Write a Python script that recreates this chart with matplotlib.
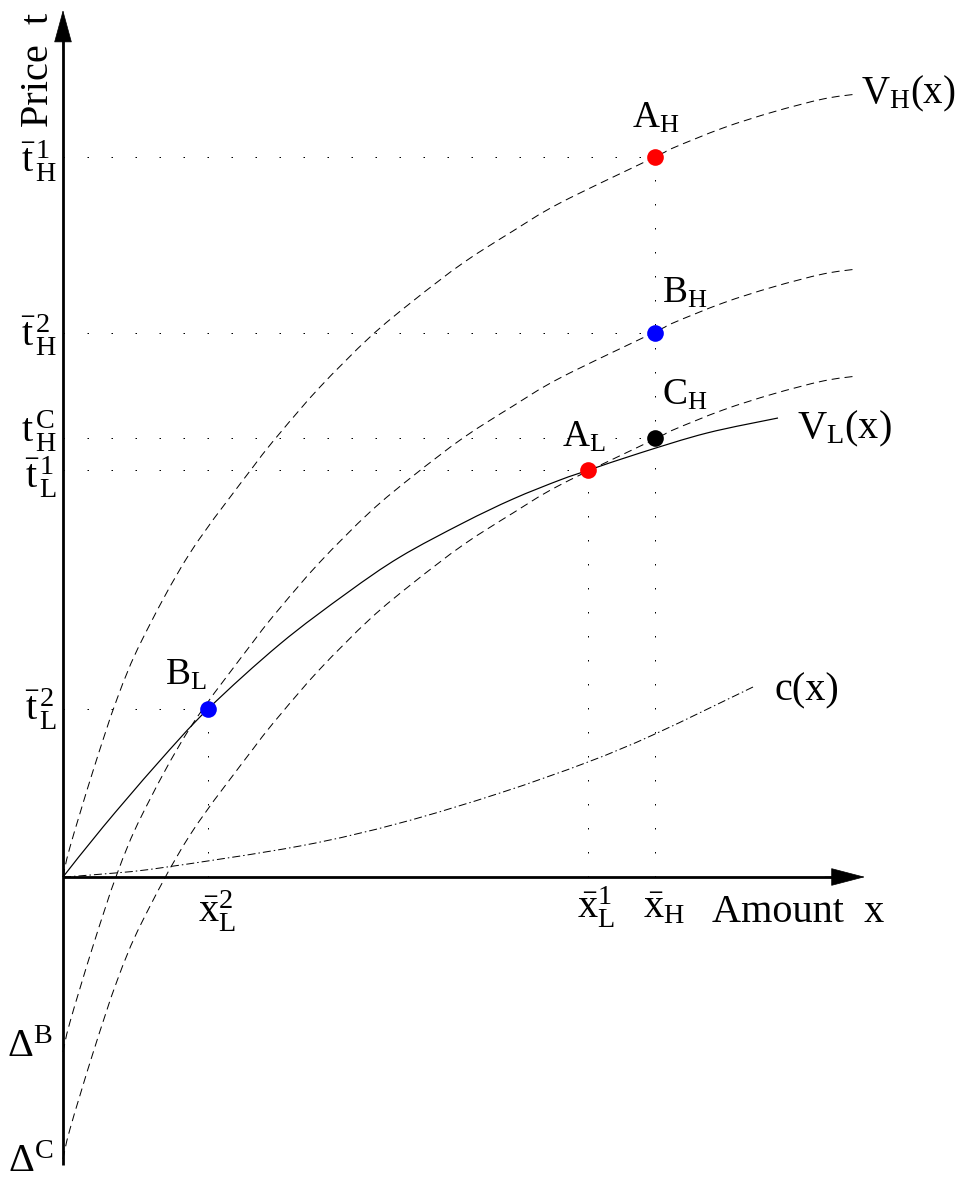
import numpy as np
import matplotlib
matplotlib.use("Agg")
import matplotlib.pyplot as plt
from matplotlib.patches import FancyArrowPatch, PathPatch
from matplotlib.path import Path

plt.rcParams['font.family'] = ['Liberation Serif', 'DejaVu Serif']
plt.rcParams['mathtext.fontset'] = 'custom'
plt.rcParams['mathtext.rm'] = 'Liberation Serif'
plt.rcParams['mathtext.it'] = 'Liberation Serif:italic'
plt.rcParams['mathtext.default'] = 'regular'

# ---- data (arbitrary units) ----
vh_x = [0, 7, 30, 54, 79, 127, 190, 217, 257, 307, 350, 400, 450, 497, 592, 610, 660, 710, 760, 794]
vh_t = [0, 30, 106, 178, 237, 324, 410, 444, 490, 540, 576, 614, 646, 674, 720, 729, 749, 765, 778, 783]
delta_B = 175
delta_C = 282

vl_x = [0, 40, 94, 145, 217, 284, 337, 400, 450, 497, 526, 577, 644, 715]
vl_t = [0, 50, 113, 168, 233, 284, 320, 354, 378, 397, 407, 424, 444, 459]

c_x = [0, 40, 97, 237, 337, 437, 525, 592, 690]
c_t = [0, 3, 9, 31, 54, 84, 115, 143, 190]

x_H, x_L1, x_L2 = 592, 525, 145
t_H1, t_H2, t_HC, t_L1, t_L2 = 720, 544, 439, 407, 168

x_axis_end = 802
t_axis_top, t_axis_bottom = 867, -288

# ---- figure ----
W, H = 959, 1179
fig = plt.figure(figsize=(W / 100, H / 100), dpi=100)
ax = fig.add_axes([0, 0, 1, 1])
ax.set_xlim(-63, W - 63)
ax.set_ylim(877 - H, 877)
ax.axis('off')

px = 0.72  # one pixel in points
dashed = (0, (8, 5))
dotted = (0, (1.5, 22.5))
dashdot = (0, (8, 3, 1.5, 3))


def smooth_path(xs, ys):
    """Cubic Bezier path passing through the given points (Catmull-Rom tangents)."""
    P = np.column_stack([xs, ys]).astype(float)
    n = len(P)
    verts = [P[0]]
    codes = [Path.MOVETO]
    for i in range(n - 1):
        p0 = P[i - 1] if i > 0 else P[i]
        p1 = P[i]
        p2 = P[i + 1]
        p3 = P[i + 2] if i + 2 < n else P[i + 1]
        c1 = p1 + (p2 - p0) / 6.0
        c2 = p2 - (p3 - p1) / 6.0
        verts += [c1, c2, p2]
        codes += [Path.CURVE4] * 3
    return Path(verts, codes)


def draw_curve(xs, ys, ls, lw):
    ax.add_patch(PathPatch(smooth_path(xs, ys), fill=False, edgecolor='black',
                           lw=lw, linestyle=ls, capstyle='butt'))


vh_x_a = np.array(vh_x)
vh_t_a = np.array(vh_t)
draw_curve(vh_x_a, vh_t_a, dashed, px)
draw_curve(vh_x_a, vh_t_a - delta_B, dashed, px)
draw_curve(vh_x_a, vh_t_a - delta_C, dashed, px)
draw_curve(vl_x, vl_t, '-', px * 1.2)
draw_curve(c_x, c_t, dashdot, px)

# guide lines
for t, x in [(t_H1, x_H), (t_H2, x_H), (t_HC, x_H), (t_L1, x_L1), (t_L2, x_L2)]:
    ax.plot([0, x], [t, t], color='black', lw=px, ls=dotted)
for x, t in [(x_H, t_H1), (x_L1, t_L1), (x_L2, t_L2)]:
    ax.plot([x, x], [0, t], color='black', lw=px, ls=dotted)

# axes with arrows
ax.plot([0, 0], [t_axis_bottom, t_axis_top - 20], color='black', lw=2.0, solid_capstyle='butt')
ax.plot([0, x_axis_end - 20], [0, 0], color='black', lw=2.0, solid_capstyle='butt')
ax.add_patch(FancyArrowPatch((0, t_axis_top - 40), (0, t_axis_top),
                             arrowstyle='-|>,head_length=22,head_width=6',
                             mutation_scale=1, color='black', lw=0.5,
                             shrinkA=0, shrinkB=0))
ax.add_patch(FancyArrowPatch((x_axis_end - 40, 0), (x_axis_end, 0),
                             arrowstyle='-|>,head_length=23,head_width=6',
                             mutation_scale=1, color='black', lw=0.5,
                             shrinkA=0, shrinkB=0))

# points
ms = 12
ax.plot([x_H], [t_H1], 'o', color='#ff0000', ms=ms, mec='none', zorder=5)
ax.plot([x_L1], [t_L1], 'o', color='#ff0000', ms=ms, mec='none', zorder=5)
ax.plot([x_H], [t_H2], 'o', color='#0000ff', ms=ms, mec='none', zorder=5)
ax.plot([x_L2], [t_L2], 'o', color='#0000ff', ms=ms, mec='none', zorder=5)
ax.plot([x_H], [t_HC], 'o', color='black', ms=ms, mec='none', zorder=5)

fs = 29
fs_pt = 27

# axis labels
ax.text(-24, 807, 'Price  t', rotation=90, ha='center', va='center', fontsize=fs)
ax.text(649, -45, 'Amount  x', ha='left', va='baseline', fontsize=fs)

# curve labels
ax.text(798, 774, r'$V_H(x)$', ha='left', va='baseline', fontsize=28)
ax.text(734, 439, r'$V_L(x)$', ha='left', va='baseline', fontsize=fs)
ax.text(712, 177, 'c(x)', ha='left', va='baseline', fontsize=fs)

# point labels
ax.text(569, 749, r'$A_H$', ha='left', va='baseline', fontsize=fs_pt)
ax.text(599, 574, r'$B_H$', ha='left', va='baseline', fontsize=fs_pt)
ax.text(599, 472, r'$C_H$', ha='left', va='baseline', fontsize=fs_pt)
ax.text(499, 430, r'$A_L$', ha='left', va='baseline', fontsize=fs_pt)
ax.text(102, 192, r'$B_L$', ha='left', va='baseline', fontsize=fs_pt)

# y-axis value labels
ylabels = [(t_H1, r'$\bar{t}^{\,1}_{\,H}$', 16),
           (t_H2, r'$\bar{t}^{\,2}_{\,H}$', 14),
           (t_HC, r'$t^{\,C}_{\,H}$', 5),
           (t_L1, r'$\bar{t}^{\,1}_{\,L}$', 18),
           (t_L2, r'$\bar{t}^{\,2}_{\,L}$', 12)]
for t, lab, off in ylabels:
    ax.text(-6, t - off, lab, ha='right', va='baseline', fontsize=fs)
ax.text(-10, -delta_B - 5, r'$\Delta^{B}$', ha='right', va='baseline', fontsize=fs)
ax.text(-10, -295, r'$\Delta^{C}$', ha='right', va='baseline', fontsize=fs)

# x-axis value labels
ax.text(x_L2 - 10, -45, r'$\bar{x}^{2}_{L}$', ha='left', va='baseline', fontsize=fs)
ax.text(x_L1 - 11, -41, r'$\bar{x}^{1}_{L}$', ha='left', va='baseline', fontsize=fs)
ax.text(x_H - 12, -41, r'$\bar{x}_{H}$', ha='left', va='baseline', fontsize=fs)

fig.savefig('out.png', dpi=100)
